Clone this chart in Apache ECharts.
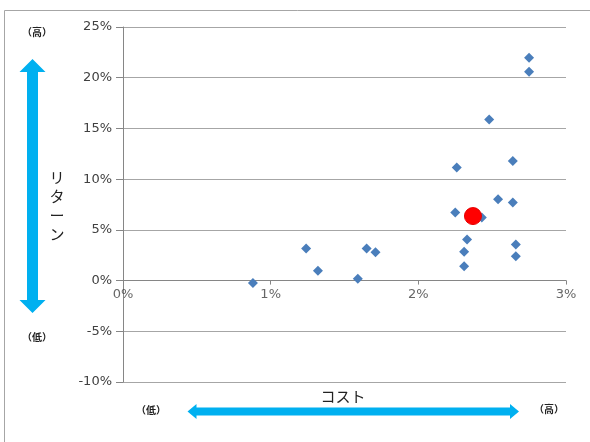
<!DOCTYPE html>
<html>
<head>
<meta charset="utf-8">
<script src="https://cdn.jsdelivr.net/npm/echarts@6/dist/echarts.min.js"></script>
<style>
html,body{margin:0;padding:0;background:#fff;}
#main{width:590px;height:442px;}
</style>
</head>
<body>
<div id="main"></div>
<script>
// Cost (x, %) and return (y, %) of each fund
var costX = [0.88, 1.24, 1.32, 1.59, 1.65, 1.71, 2.26, 2.25, 2.33, 2.31, 2.31, 2.43, 2.48, 2.54, 2.64, 2.64, 2.66, 2.66, 2.75, 2.75];
var returnY = [-0.25, 3.15, 0.97, 0.18, 3.15, 2.79, 11.16, 6.70, 4.05, 2.83, 1.40, 6.23, 15.88, 8.02, 11.79, 7.69, 3.55, 2.39, 21.97, 20.59];
// Highlighted point
var highlightX = [2.37];
var highlightY = [6.36];
// Axis ticks
var xTicks = [0, 1, 2, 3];
var yTicks = [-10, -5, 0, 5, 10, 15, 20, 25];
var xAxisName = 'コスト';
var yAxisName = 'リターン';
var highLabel = '（高）';
var lowLabel = '（低）';

var fundData = costX.map(function (x, i) { return [x, returnY[i]]; });
var highlightData = highlightX.map(function (x, i) { return [x, highlightY[i]]; });
var xTickData = xTicks.map(function (t) { return [t, 0]; });

var chart = echarts.init(document.getElementById('main'), null, { renderer: 'canvas' });
var labelFont = 'DejaVu Sans';
var arrowColor = '#00B0F0';

var option = {
  animation: false,
  backgroundColor: '#ffffff',
  grid: { left: 123, right: 24, top: 27, bottom: 60, containLabel: false },
  xAxis: {
    type: 'value',
    min: xTicks[0], max: xTicks[xTicks.length - 1], interval: 1,
    axisLine: { show: true, onZero: true, lineStyle: { color: '#868686', width: 1 } },
    axisTick: { show: true, length: 4, lineStyle: { color: '#868686' } },
    splitLine: { show: false },
    axisLabel: { show: false }
  },
  yAxis: {
    type: 'value',
    min: yTicks[0], max: yTicks[yTicks.length - 1], interval: 5,
    axisLine: { show: true, onZero: false, lineStyle: { color: '#868686', width: 1 } },
    axisTick: { show: true, length: 7, lineStyle: { color: '#868686' } },
    splitLine: { show: true, lineStyle: { color: '#a6a6a6', width: 1 } },
    axisLabel: {
      margin: 11, color: '#404040', fontSize: 13, fontFamily: labelFont,
      formatter: function (v) { return v + '%'; }
    }
  },
  series: [
    {
      type: 'scatter',
      data: xTickData,
      symbolSize: 0,
      silent: true,
      itemStyle: { color: 'rgba(0,0,0,0)' },
      label: {
        show: true, position: 'bottom', distance: 8,
        color: '#404040', fontSize: 13, fontFamily: labelFont,
        formatter: function (p) { return p.value[0] + '%'; }
      },
      z: 1
    },
    {
      type: 'scatter',
      data: fundData,
      symbol: 'diamond',
      symbolSize: [10, 10],
      itemStyle: { color: '#4A7EBB', opacity: 1 },
      z: 3
    },
    {
      type: 'scatter',
      data: highlightData,
      symbol: 'circle',
      symbolSize: 17,
      itemStyle: { color: '#FF0000', borderColor: '#e60000', borderWidth: 1, opacity: 1 },
      z: 4
    }
  ],
  graphic: [
    {
      type: 'rect', silent: true, z: 0,
      shape: { x: 4.5, y: 10.5, width: 640, height: 520 },
      style: { fill: 'none', stroke: '#a6a6a6', lineWidth: 1 }
    },
    {
      type: 'polygon', silent: true,
      shape: { points: [[32.5, 59], [45.5, 72], [38, 72], [38, 300], [45.5, 300], [32.5, 313], [19.5, 300], [27, 300], [27, 72], [19.5, 72]] },
      style: { fill: arrowColor }
    },
    {
      type: 'polygon', silent: true,
      shape: { points: [[187.5, 411.5], [196.5, 404], [196.5, 407.5], [510, 407.5], [510, 404], [519, 411.5], [510, 419], [510, 415.5], [196.5, 415.5], [196.5, 419]] },
      style: { fill: arrowColor }
    },
    {
      type: 'text', silent: true, x: 37, y: 32,
      style: { text: highLabel, fontSize: 10, fontWeight: 'bold', fill: '#222', align: 'center', verticalAlign: 'middle', fontFamily: 'Noto Sans CJK JP' }
    },
    {
      type: 'text', silent: true, x: 37, y: 337,
      style: { text: lowLabel, fontSize: 10, fontWeight: 'bold', fill: '#222', align: 'center', verticalAlign: 'middle', fontFamily: 'Noto Sans CJK JP' }
    },
    {
      type: 'text', silent: true, x: 151, y: 410,
      style: { text: lowLabel, fontSize: 10, fontWeight: 'bold', fill: '#222', align: 'center', verticalAlign: 'middle', fontFamily: 'Noto Sans CJK JP' }
    },
    {
      type: 'text', silent: true, x: 549, y: 409,
      style: { text: highLabel, fontSize: 10, fontWeight: 'bold', fill: '#222', align: 'center', verticalAlign: 'middle', fontFamily: 'Noto Sans CJK JP' }
    },
    {
      type: 'text', silent: true, x: 343, y: 396,
      style: { text: xAxisName, fontSize: 15, fill: '#222', align: 'center', verticalAlign: 'middle', fontFamily: 'Noto Sans CJK JP' }
    },
    {
      type: 'text', silent: true, x: 57, y: 206,
      style: { text: yAxisName.split('').join('\n'), fontSize: 15, lineHeight: 19, fill: '#222', align: 'center', verticalAlign: 'middle', fontFamily: 'Noto Sans CJK JP' }
    }
  ]
};
chart.setOption(option);
</script>
</body>
</html>
